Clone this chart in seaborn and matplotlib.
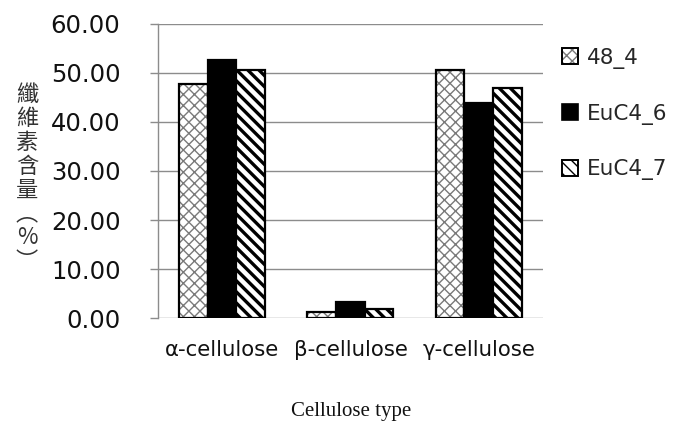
import matplotlib
matplotlib.use("Agg")
import matplotlib.pyplot as plt
import seaborn as sns
import pandas as pd
from matplotlib.patches import Patch, Rectangle
from matplotlib.ticker import FormatStrFormatter

categories = ["α-cellulose", "β-cellulose", "γ-cellulose"]
samples = ["48_4", "EuC4_6", "EuC4_7"]
v_48_4 = [47.8, 1.2, 50.6]
v_EuC4_6 = [52.7, 3.3, 43.8]
v_EuC4_7 = [50.6, 1.9, 46.9]
yticks = [0, 10, 20, 30, 40, 50, 60]

rows = []
for s, vals in zip(samples, [v_48_4, v_EuC4_6, v_EuC4_7]):
    for c, v in zip(categories, vals):
        rows.append({"type": c, "sample": s, "value": v})
df = pd.DataFrame(rows)

sns.set_theme(style="white")
plt.rcParams["font.family"] = ["DejaVu Sans", "Noto Sans CJK TC"]
plt.rcParams["hatch.linewidth"] = 1.0

fig = plt.figure(figsize=(6.74, 4.26), dpi=100)
ax = fig.add_axes([0.2344, 0.2535, 0.5712, 0.6902])

fills = {"48_4": "white", "EuC4_6": "black", "EuC4_7": "white"}
sns.barplot(data=df, x="type", y="value", hue="sample", order=categories,
            hue_order=samples, palette=fills, width=0.67, gap=0,
            edgecolor="black", linewidth=1.6, saturation=1, legend=False, ax=ax,
            zorder=3)

GRAY_HATCH = "#7a7a7a"
for cont, s in zip(ax.containers, samples):
    for p in cont:
        if s == "48_4":
            p.set_hatch("xxx")
            p.set_edgecolor(GRAY_HATCH)
            p.set_linewidth(0)
            if hasattr(p, "set_hatch_linewidth"):
                p.set_hatch_linewidth(1.0)
            ax.add_patch(Rectangle(p.get_xy(), p.get_width(), p.get_height(),
                                   fill=False, edgecolor="black", linewidth=1.6,
                                   zorder=4))
        elif s == "EuC4_7":
            p.set_hatch("\\\\\\")
            if hasattr(p, "set_hatch_linewidth"):
                p.set_hatch_linewidth(2.4)

ax.set_xlim(-0.5, 2.5)
ax.set_ylim(0, 60)
ax.set_yticks(yticks)
ax.yaxis.set_major_formatter(FormatStrFormatter("%.2f"))
ax.yaxis.grid(True, color="#8c8c8c", linewidth=1.0, zorder=0)
ax.set_axisbelow(True)
for sp in ["top", "right", "bottom"]:
    ax.spines[sp].set_visible(False)
ax.spines["left"].set_color("#8c8c8c")
ax.spines["left"].set_linewidth(1.0)
ax.tick_params(axis="y", length=6, color="#8c8c8c", width=1.0, labelsize=17.5,
               labelcolor="#111111", left=True, pad=21)
ax.tick_params(axis="x", length=0, labelsize=15.3, labelcolor="#111111", pad=16)
ax.set_xlabel("")
ax.set_ylabel("")

fig.text(0.521, 0.035, "Cellulose type", fontfamily="Liberation Serif",
         fontsize=15, ha="center", va="center", color="#111111")

fig.text(0.04, 0.582, "纖\n維\n素\n含\n量\n︵\n%\n︶",
         fontfamily=["Noto Sans CJK TC", "DejaVu Sans"],
         fontsize=16, ha="center", va="center", color="#333333", linespacing=1.05)

# legend handles
h1a = Patch(facecolor="white", edgecolor=GRAY_HATCH, hatch="xxx", linewidth=0)
h1b = Patch(facecolor="none", edgecolor="black", linewidth=1.4)
h2 = Patch(facecolor="black", edgecolor="black", linewidth=1.2)
h3 = Patch(facecolor="white", edgecolor="black", hatch="\\\\\\", linewidth=1.4)
if hasattr(h3, "set_hatch_linewidth"):
    h3.set_hatch_linewidth(1.8)
    h1a.set_hatch_linewidth(1.0)
handles = [(h1a, h1b), h2, h3]
fig.legend(handles, samples, loc="upper left", bbox_to_anchor=(0.834, 0.888),
           frameon=False, fontsize=15.5, handlelength=0.75, handleheight=0.75,
           handletextpad=0.4, labelspacing=1.62, borderaxespad=0, borderpad=0)

fig.savefig("out.png", dpi=100, facecolor="white")
